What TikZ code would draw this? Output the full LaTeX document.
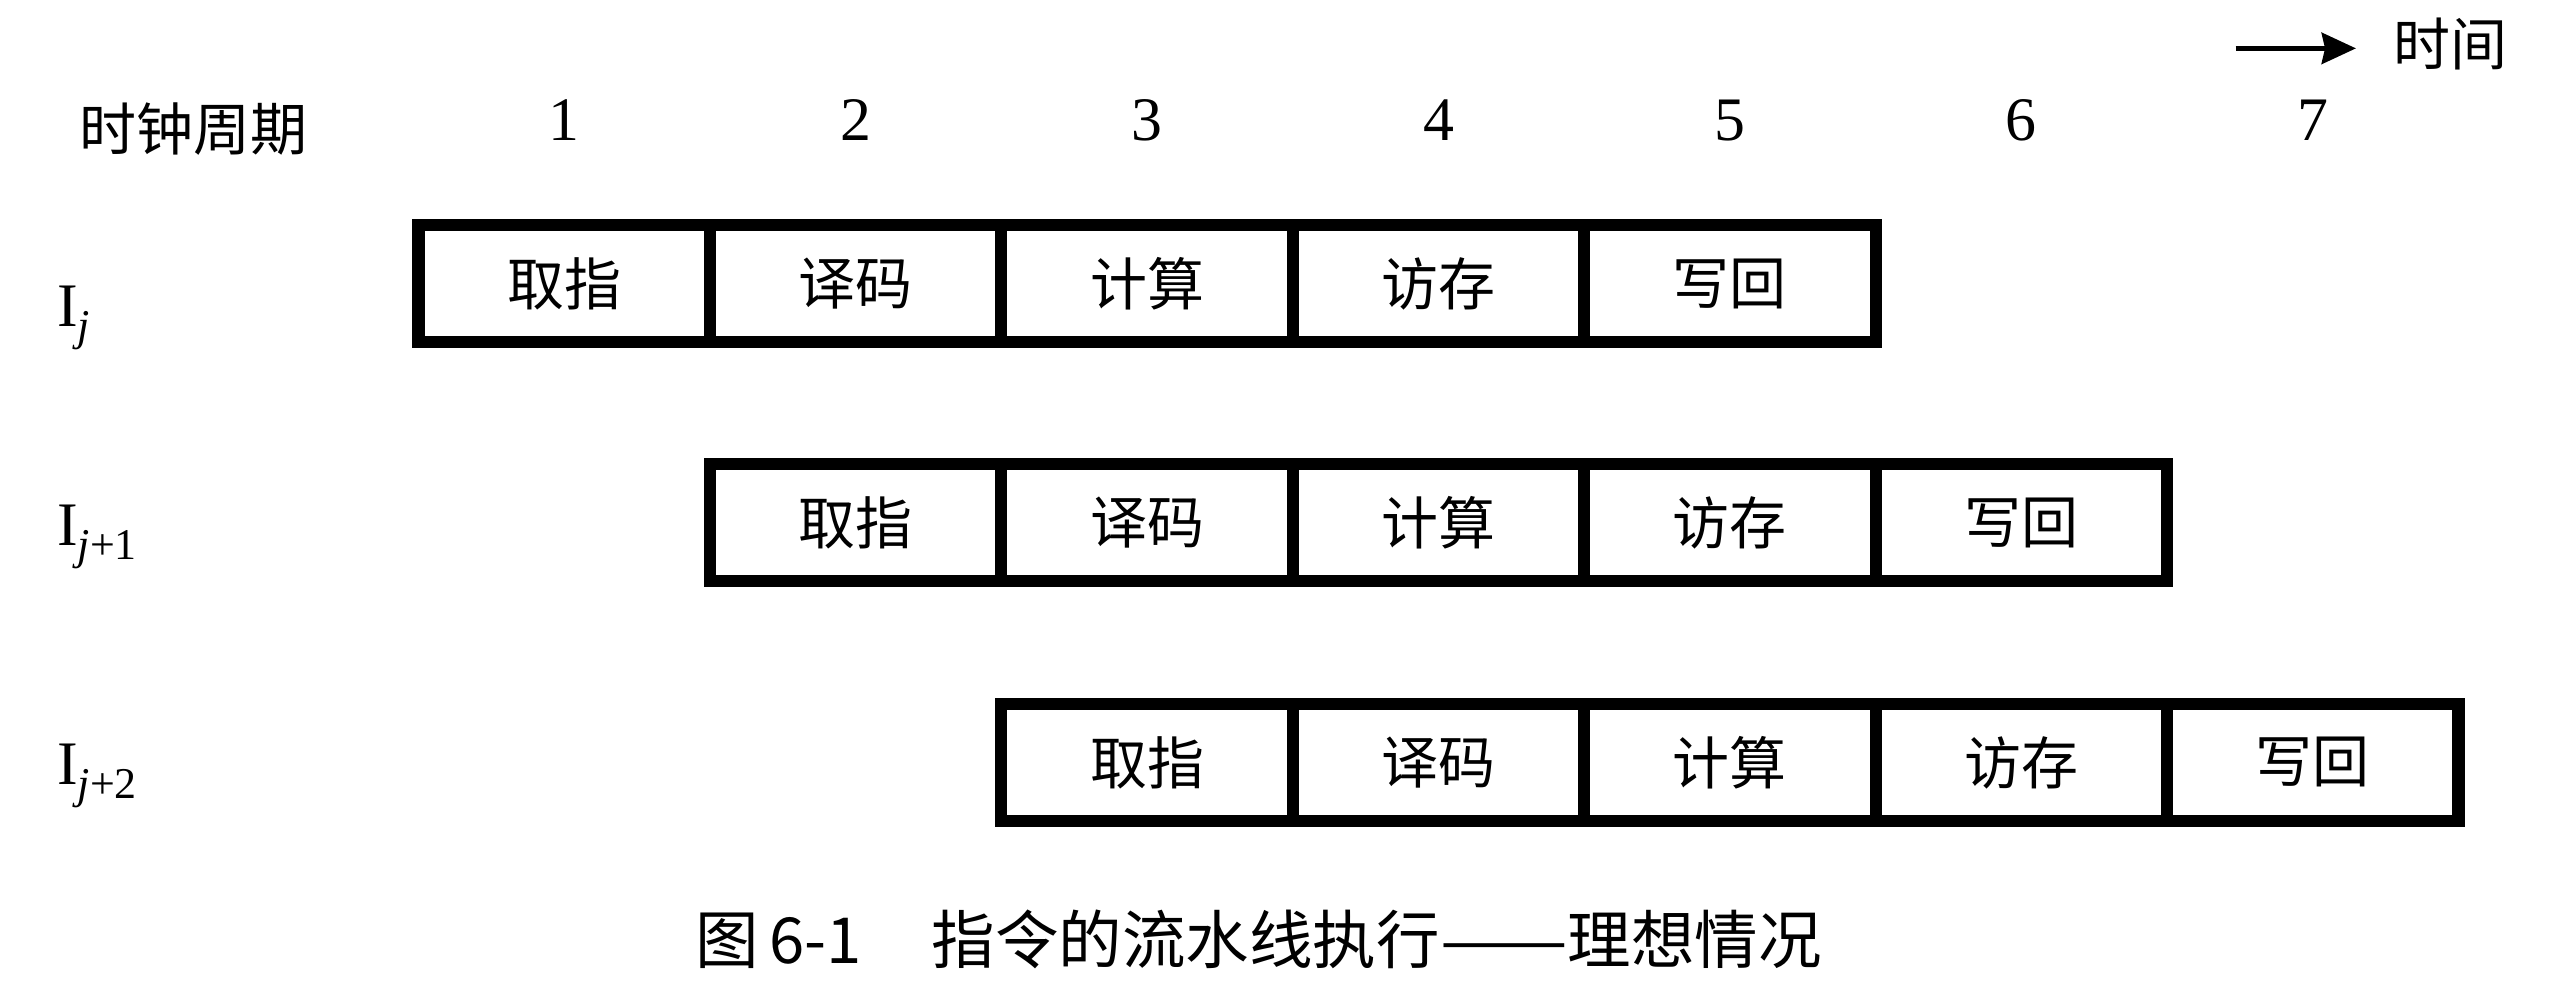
\documentclass[tikz,border=0pt]{standalone}
\usepackage{fontspec}
\setmainfont{Liberation Serif}
\newfontfamily\cjk{Noto Sans CJK SC}
\usetikzlibrary{arrows.meta}
\begin{document}
\begin{tikzpicture}[x=1pt,y=-1pt,
  stagebox/.style={draw, line width=7.5pt, rectangle, minimum width=179pt,
    minimum height=72pt, inner sep=0pt, outer sep=0pt,
    font={\cjk\fontsize{35}{40}\selectfont}},
  numlabel/.style={anchor=base, inner sep=0pt, font={\fontsize{38}{40}\selectfont}},
  rowlabel/.style={anchor=base west, inner sep=0pt, font={\fontsize{38}{40}\selectfont}},
  cjklabel/.style={inner sep=0pt, font={\cjk\fontsize{35}{40}\selectfont}},
  caption/.style={inner sep=0pt, font={\cjk\fontsize{39}{42}\selectfont}},
  timearrow/.style={line width=3.4pt, -{Stealth[length=21pt,width=19pt,inset=2pt]}}]
\fill[white] (0,0) rectangle (1568,614.2);
\useasboundingbox (0,0) rectangle (1568,614.2);

% time arrow
\coordinate (arrs) at (1373,29.7);
\coordinate (arre) at (1447,29.7);
\draw[timearrow] (arrs) -- (arre);
\node[cjklabel, anchor=west] (timelbl) at (1470,27) {时间};

% header
\node[cjklabel] (clk) at (119,79.5) {时钟周期};
\foreach \c in {1,...,7} {
  \node[numlabel] (n\c) at ({257+179*(\c-0.5)},86) {\c};
}

% rows
\foreach \r/\yc/\off in {1/174.25/0, 2/321/1, 3/468.25/2} {
  \foreach \c/\t in {1/取指,2/译码,3/计算,4/访存,5/写回} {
    \node[stagebox] (r\r c\c) at ({257+179*(\off+\c-0.5)},\yc) {\t};
  }
}

% instruction labels
\node[rowlabel] (i1) at (35,200.7) {I\raisebox{-8.5pt}{\fontsize{27}{27}\selectfont\textit{j}}};
\node[rowlabel] (i2) at (35,335) {I\raisebox{-8.5pt}{\fontsize{27}{27}\selectfont\textit{j}+1}};
\node[rowlabel] (i3) at (35,482) {I\raisebox{-8.5pt}{\fontsize{27}{27}\selectfont\textit{j}+2}};

% caption
\node[caption, anchor=west] (cap) at (427,577) {图\,6-1\hspace{1.1em}指令的流水线执行\scalebox{1.2}[1]{——}理想情况};
\end{tikzpicture}
\end{document}
